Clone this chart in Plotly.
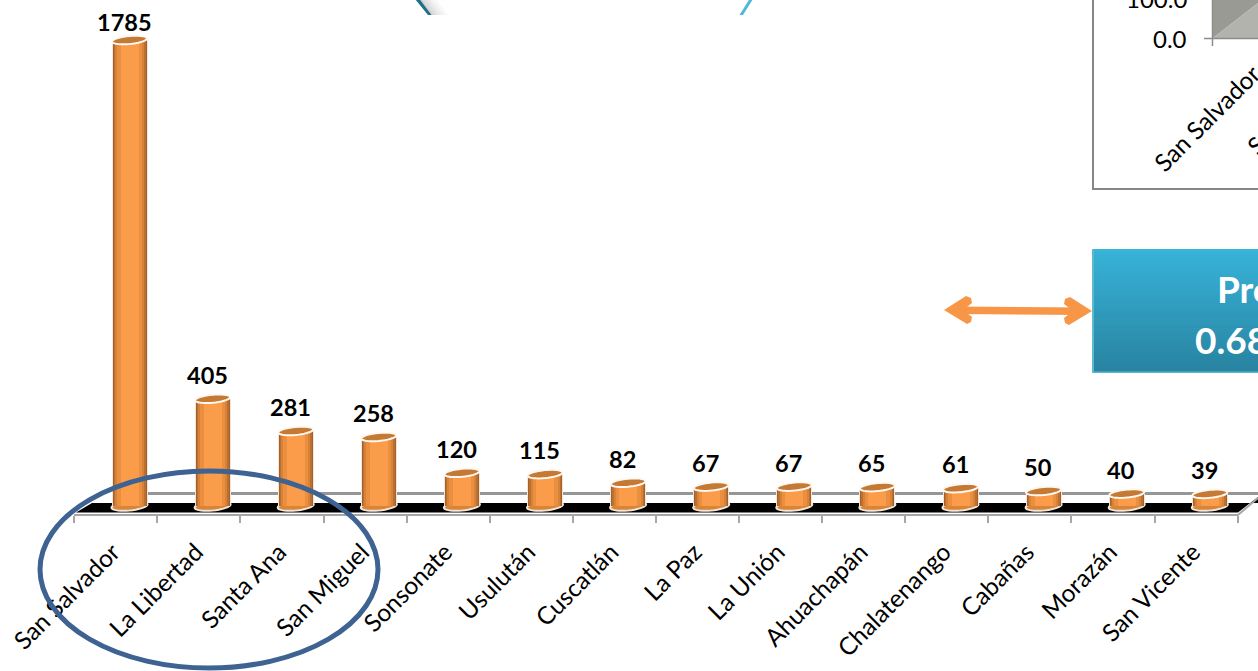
import numpy as np
import plotly.graph_objects as go

categories = ["San Salvador", "La Libertad", "Santa Ana", "San Miguel", "Sonsonate", "Usulután",
              "Cuscatlán", "La Paz", "La Unión", "Ahuachapán", "Chalatenango", "Cabañas", "Morazán", "San Vicente"]
values = [1785, 405, 281, 258, 120, 115, 82, 67, 67, 65, 61, 50, 40, 39]

W, H = 1258, 671
AXIS_PY = 515          # pixel row of the category axis
BASE_PY = 504          # pixel row of value zero
PX_PER_UNIT = 464 / 1785
X0_PX, STEP_PX = 129.5, 83.1
FOOT_PX = 2            # the cylinders stand slightly below value zero

ORANGE = "#FB9C4A"
FONT = "Lato"
idx = list(range(len(categories)))

def px(x):  # page pixel to paper x
    return x / W
def py(y):  # page pixel to paper y
    return (AXIS_PY - y) / AXIS_PY

def poly(points, **kw):
    path = "M" + " L".join(f"{px(a):.5f},{py(b):.5f}" for a, b in points) + " Z"
    return dict(type="path", xref="paper", yref="paper", path=path, **kw)

def ellipse_path(i, v, a_px, b_px, tilt=0.09, n=36):
    t = np.linspace(0, 2 * np.pi, n, endpoint=False)
    xs = i + a_px * np.cos(t) / STEP_PX
    ys = v + (b_px * np.sin(t) + tilt * a_px * np.cos(t)) / PX_PER_UNIT
    return "M" + " L".join(f"{a:.4f},{b:.3f}" for a, b in zip(xs, ys)) + " Z"

shapes = []
nl = dict(width=0)

# floor
shapes.append(dict(type="line", xref="paper", yref="paper", x0=px(146), x1=px(1258), y0=py(493.5), y1=py(493.5),
                   line=dict(color="#969696", width=3), layer="below"))
shapes.append(poly([(76, 512.5), (92, 503), (1258, 503), (1258, 497), (1238, 512.5)], fillcolor="#000000", line=nl, layer="below"))
shapes.append(dict(type="line", xref="paper", yref="paper", x0=px(74), x1=px(1238), y0=py(515), y1=py(515),
                   line=dict(color="#A6A6A6", width=2), layer="below"))
shapes.append(dict(type="line", xref="paper", yref="paper", x0=px(1238), x1=px(1258), y0=py(515), y1=py(498),
                   line=dict(color="#A6A6A6", width=2), layer="below"))

# cylinder bottoms and tops, placed from the values
for i, v in zip(idx, values):
    shapes.append(dict(type="path", xref="x", yref="y", path=ellipse_path(i, -FOOT_PX / PX_PER_UNIT, 18, 4.5),
                       fillcolor="#D98436", line=dict(color="#EFE6DC", width=2), layer="below"))
for i, v in zip(idx, values):
    shapes.append(dict(type="path", xref="x", yref="y", path=ellipse_path(i, v, 17.5, 4),
                       fillcolor="#C47A35", line=dict(color="#FFF8F0", width=2), layer="above"))

# surrounding circle
shapes.append(dict(type="circle", xref="paper", yref="paper", x0=px(40), x1=px(378), y0=py(668), y1=py(471),
                   line=dict(color="#3E6291", width=5), fillcolor="rgba(0,0,0,0)", layer="above"))

# inset panel, cut by the page
shapes.append(dict(type="rect", xref="paper", yref="paper", x0=px(1093), x1=px(1270), y0=py(189), y1=py(-10),
                   line=dict(color="#868686", width=2), fillcolor="#FFFFFF", layer="above"))
shapes.append(poly([(1213, 38), (1213, -2), (1258, -2), (1258, 3)], fillcolor="#989A93", line=nl, layer="above"))
shapes.append(poly([(1213, 38), (1258, 3), (1258, 38)], fillcolor="#B1B3AC", line=nl, layer="above"))
for seg in [(1204, 38.5, 1258, 38.5), (1212.5, -2, 1212.5, 46)]:
    shapes.append(dict(type="line", xref="paper", yref="paper", x0=px(seg[0]), y0=py(seg[1]), x1=px(seg[2]), y1=py(seg[3]),
                       line=dict(color="#8C8C8C", width=1.5), layer="above"))

# blue box with vertical shading
top_c, bot_c = np.array([0x38, 0xB3, 0xD9]), np.array([0x29, 0x84, 0xA2])
box_top, box_bot = 249, 373
rows = 40
shapes.append(dict(type="rect", xref="paper", yref="paper", x0=px(1092), x1=px(1270), y0=py(box_bot), y1=py(box_top),
                   fillcolor="#5DB9D0", line=nl, layer="above"))
for r in range(rows):
    f = r / (rows - 1)
    c = top_c + (bot_c - top_c) * f
    a = box_top + (box_bot - 2 - box_top) * r / rows
    b = box_top + (box_bot - 2 - box_top) * (r + 1) / rows + 0.5
    shapes.append(dict(type="rect", xref="paper", yref="paper", x0=px(1094), x1=px(1270), y0=py(b), y1=py(a),
                       fillcolor=f"rgb({int(c[0])},{int(c[1])},{int(c[2])})", line=nl, layer="above"))

# double arrow
AC = "#F79646"
shapes.append(poly([(955, 306.5), (1082, 307.5), (1082, 315), (955, 314)], fillcolor=AC, line=nl, layer="above"))
shapes.append(poly([(944, 310), (966, 296), (971, 298), (972, 303), (963, 310), (972, 317), (971, 322), (967, 324)],
                   fillcolor=AC, line=nl, layer="above"))
shapes.append(poly([(1092, 311), (1070, 297), (1065, 299), (1064, 304), (1073, 311), (1064, 318), (1065, 323), (1069, 325)],
                   fillcolor=AC, line=nl, layer="above"))

# fragments at the top edge, grey fading out to the right
fade = ["#D4D4D4", "#DEDEDE", "#E8E8E8", "#F1F1F1", "#F8F8F8"]
for k, col in enumerate(fade):
    shapes.append(poly([(419 + 3.4 * k, -1), (422.4 + 3.4 * k, -1), (434.4 + 3.4 * k, 15), (431 + 3.4 * k, 15)],
                       fillcolor=col, line=nl, layer="above"))
shapes.append(poly([(415, -1), (419.5, -1), (431.5, 15), (428, 15)], fillcolor="#1F6F86", line=nl, layer="above"))
shapes.append(poly([(749.5, -1), (753, -1), (743, 15), (739.5, 15)], fillcolor="#4FB8D8", line=nl, layer="above"))

fig = go.Figure()
# layered widths give the rounded shading of the cylinders
foot = [-FOOT_PX / PX_PER_UNIT] * len(idx)
for wpx, col in [(36, "#F2E6DA"), (34, "#A5602B"), (32, "#BC7030"), (29, "#D68238"), (25, "#EA8E40"), (18, ORANGE)]:
    for ys in (values, foot):
        fig.add_trace(go.Bar(x=idx, y=ys, width=wpx / STEP_PX, marker=dict(color=col, line=dict(width=0)),
                             hoverinfo="skip", showlegend=False))
# second axis only carries the tick marks between categories
fig.add_trace(go.Scatter(x=[None], y=[None], xaxis="x2", showlegend=False))

annotations = []
for i, v in zip(idx, values):
    annotations.append(dict(x=i, y=v, xref="x", yref="y", text=str(v), showarrow=False,
                            xshift=-5.5, yshift=18.5 if v > 1000 else 23.8,
                            font=dict(family=FONT, size=23.5, color="#000000", weight="bold")))

def page_text(x, y, text, size, color="#000000", angle=0, anchor="center", weight="normal"):
    annotations.append(dict(x=px(x), y=py(y), xref="paper", yref="paper", text=text, showarrow=False,
                            xanchor=anchor, yanchor="middle", textangle=angle,
                            font=dict(family=FONT, size=size, color=color, weight=weight)))

page_text(1189, -1, "100.0", 24, anchor="right")
page_text(1189, 39, "0.0", 24, anchor="right")
page_text(1206, 118, "San Salvador", 24.5, angle=-45)
page_text(1256, 146, "S", 24.5, angle=-45)
page_text(1215, 288, "Pro", 37, color="#FFFFFF", anchor="left", weight="bold")
page_text(1193, 339, "0.68", 37, color="#FFFFFF", anchor="left", weight="bold")

xrange = [-X0_PX / STEP_PX, (W - X0_PX) / STEP_PX]
tick_marks = [i - 0.665 for i in range(len(categories) + 1)]
label_shift = -0.2

fig.update_layout(
    width=W, height=H, margin=dict(l=0, r=0, t=0, b=H - AXIS_PY, pad=0, autoexpand=False),
    barmode="overlay", bargap=0, plot_bgcolor="rgba(0,0,0,0)", paper_bgcolor="#FFFFFF", showlegend=False,
    shapes=shapes, annotations=annotations,
    xaxis=dict(range=xrange, tickmode="array", tickvals=[i + label_shift for i in idx], ticktext=categories,
               tickangle=-45, ticks="", ticklen=8, tickcolor="rgba(0,0,0,0)", ticklabelstandoff=17, showgrid=False,
               zeroline=False, showline=False, tickfont=dict(family=FONT, size=24.5, color="#000000")),
    xaxis2=dict(range=xrange, overlaying="x", anchor="y", side="bottom", tickmode="array", tickvals=tick_marks,
                ticktext=[""] * len(tick_marks), ticks="outside", ticklen=7, tickwidth=2, tickcolor="#A6A6A6",
                showgrid=False, zeroline=False, showline=False),
    yaxis=dict(range=[-(AXIS_PY - BASE_PY) / PX_PER_UNIT, BASE_PY / PX_PER_UNIT], visible=False),
)
fig.write_html("out.html", config={"displayModeBar": False},
               post_script="document.body.style.margin='0';document.body.style.overflow='hidden';")
